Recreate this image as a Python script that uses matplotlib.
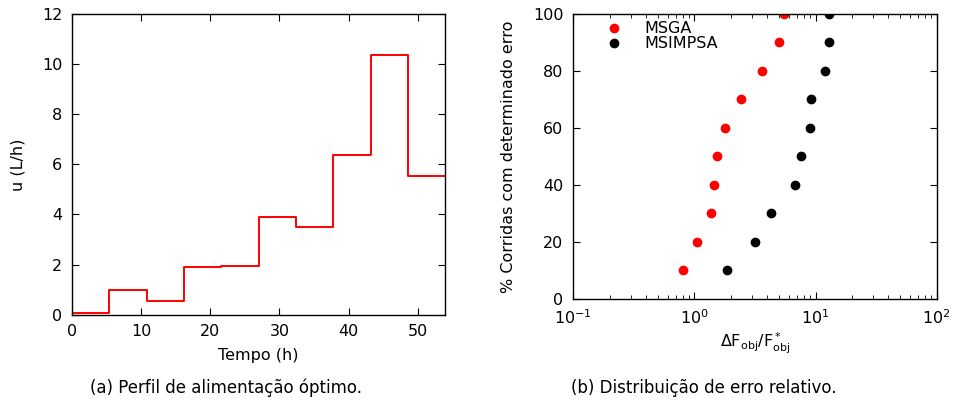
import numpy as np
import matplotlib; matplotlib.use('Agg')
import matplotlib.pyplot as plt

plt.rcParams['font.family'] = ['DejaVu Sans']
plt.rcParams['mathtext.default'] = 'regular'

# perfil de alimentacao (a)
tempo = [0, 5.4, 10.8, 16.2, 21.6, 27.0, 32.4, 37.8, 43.2, 48.6, 54.0]
u = [0.08, 1.0, 0.55, 1.9, 1.93, 3.91, 3.5, 6.36, 10.36, 5.53]

# distribuicao de erro relativo (b)
pct = [10, 20, 30, 40, 50, 60, 70, 80, 90, 100]
erro_msga = [0.80, 1.04, 1.37, 1.45, 1.55, 1.78, 2.41, 3.64, 4.99, 5.5]
erro_msimpsa = [1.85, 3.18, 4.26, 6.81, 7.59, 9.06, 9.23, 12.05, 12.8, 12.9]

fs = 11.5

fig = plt.figure(figsize=(9.56, 4.04), dpi=100)
ax1 = fig.add_axes([0.0753, 0.221, 0.3905, 0.7443])
ax2 = fig.add_axes([0.5997, 0.2606, 0.3801, 0.7047])

ax1.step(tempo, u + [u[-1]], where='post', color='red', lw=1.4)
ax1.set_xlim(0, 54)
ax1.set_ylim(0, 12)
ax1.set_xticks([0, 10, 20, 30, 40, 50])
ax1.set_yticks(np.arange(0, 13, 2))
ax1.set_xlabel('Tempo (h)', fontsize=fs, labelpad=6)
ax1.set_ylabel('u (L/h)', fontsize=fs, labelpad=12)

ax2.plot(erro_msga, pct, 'o', color='red', ms=6, label='MSGA')
ax2.plot(erro_msimpsa, pct, 'o', color='black', ms=6, label='MSIMPSA')
ax2.set_xscale('log')
ax2.set_xlim(0.1, 100)
ax2.set_ylim(0, 100)
ax2.set_yticks(np.arange(0, 101, 20))
ax2.set_xlabel(r'$\Delta F_{obj}/F^*_{obj}$', fontsize=fs, labelpad=3)
ax2.set_ylabel('% Corridas com determinado erro', fontsize=fs, labelpad=12)
leg = ax2.legend(loc='upper left', frameon=False, fontsize=fs, handletextpad=0.9,
                 borderaxespad=0.05, labelspacing=0.0, bbox_to_anchor=(0.047, 1.0))

for ax in (ax1, ax2):
    ax.tick_params(direction='in', which='both', top=True, right=True,
                   labelsize=fs, pad=7)
    ax.tick_params(which='major', length=5)
    ax.tick_params(which='minor', length=3)
    for s in ax.spines.values():
        s.set_linewidth(1.0)

fig.text(0.2364, 0.028, '(a) Perfil de alimentação óptimo.', ha='center', fontsize=12)
fig.text(0.7364, 0.028, '(b) Distribuição de erro relativo.', ha='center', fontsize=12)

fig.savefig('out.png', dpi=100)
